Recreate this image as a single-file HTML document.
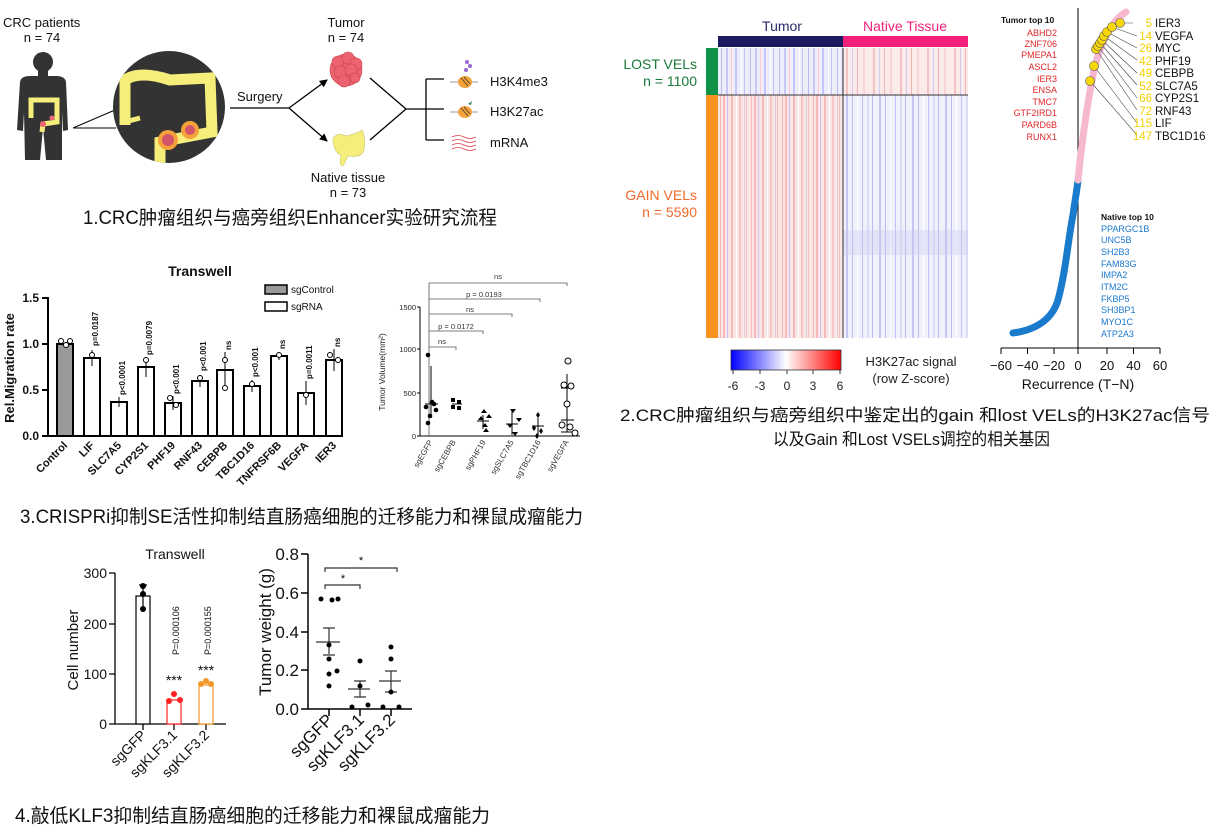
<!DOCTYPE html>
<html><head><meta charset="utf-8"><style>
html,body{margin:0;padding:0;background:#fff;}
svg{display:block;font-family:"Liberation Sans","Noto Sans CJK SC",sans-serif;}
</style></head><body>
<svg width="1228" height="835" viewBox="0 0 1228 835" xmlns="http://www.w3.org/2000/svg">
<defs>
<clipPath id="cc"><circle cx="169" cy="107" r="56"/></clipPath>
<pattern id="tr" patternUnits="userSpaceOnUse" width="31" height="300" x="718">
<rect width="31" height="300" fill="#fbe6e6"/>
<rect x="2" width="1" height="300" fill="#e88" opacity=".5"/><rect x="5" width="2" height="300" fill="#f6b8b8"/>
<rect x="9" width="1" height="300" fill="#99f" opacity=".5"/><rect x="13" width="2" height="300" fill="#f2a8a8" opacity=".7"/>
<rect x="18" width="1" height="300" fill="#fff"/><rect x="21" width="2" height="300" fill="#f4b0b0" opacity=".6"/>
<rect x="26" width="1" height="300" fill="#aab" opacity=".4"/><rect x="28" width="1" height="300" fill="#e99" opacity=".5"/>
</pattern>
<pattern id="tb" patternUnits="userSpaceOnUse" width="29" height="300" x="718">
<rect width="29" height="300" fill="#eeeefb"/>
<rect x="3" width="1" height="300" fill="#88e" opacity=".5"/><rect x="8" width="2" height="300" fill="#c8c8f4"/>
<rect x="13" width="1" height="300" fill="#fcc"/><rect x="17" width="2" height="300" fill="#aaf" opacity=".6"/>
<rect x="23" width="1" height="300" fill="#fff"/><rect x="26" width="1" height="300" fill="#99e" opacity=".5"/>
</pattern>
<pattern id="nb" patternUnits="userSpaceOnUse" width="33" height="300" x="843">
<rect width="33" height="300" fill="#f1f1fb"/>
<rect x="3" width="2" height="300" fill="#c6c6f2"/><rect x="9" width="1" height="300" fill="#88e" opacity=".5"/>
<rect x="14" width="1" height="300" fill="#fff"/><rect x="19" width="1" height="300" fill="#aaf" opacity=".7"/>
<rect x="24" width="2" height="300" fill="#dcdcf7"/><rect x="29" width="1" height="300" fill="#77e" opacity=".45"/>
</pattern>
<pattern id="nr" patternUnits="userSpaceOnUse" width="27" height="300" x="843">
<rect width="27" height="300" fill="#faeaea"/>
<rect x="3" width="2" height="300" fill="#f4c0c0"/><rect x="9" width="1" height="300" fill="#aaf" opacity=".5"/>
<rect x="14" width="1" height="300" fill="#f3b3b3"/><rect x="20" width="2" height="300" fill="#f8d4d4"/>
</pattern>
<linearGradient id="cb" x1="0" x2="1"><stop offset="0" stop-color="#0000ff"/><stop offset=".5" stop-color="#fff"/><stop offset="1" stop-color="#ff0000"/></linearGradient>
<marker id="ar" markerWidth="8" markerHeight="8" refX="7" refY="4" orient="auto" markerUnits="userSpaceOnUse"><path d="M0,0 L8,4 L0,8 Z" fill="#000"/></marker>
</defs>

<!-- ===== Panel 1 ===== -->
<g font-size="13" fill="#111">
<text x="3" y="27">CRC patients</text>
<text x="42" y="42" text-anchor="middle">n = 74</text>
<text x="346" y="27" text-anchor="middle">Tumor</text>
<text x="346" y="42" text-anchor="middle">n = 74</text>
<text x="237" y="101">Surgery</text>
<text x="348" y="182" text-anchor="middle">Native tissue</text>
<text x="348" y="197" text-anchor="middle">n = 73</text>
<text x="490" y="86">H3K4me3</text>
<text x="490" y="116">H3K27ac</text>
<text x="490" y="147">mRNA</text>
</g>
<!-- human -->
<g fill="#333">
<circle cx="43" cy="62" r="10"/>
<rect x="38" y="68" width="10" height="10"/>
<path d="M20,82 Q21,76 30,76 L56,76 Q65,76 66,82 L68,130 L63,131 L62,112 L62,160 L46,160 L43,128 L40,160 L25,160 L24,112 L23,131 L17,130 Z"/>
</g>
<path d="M31,118 L31,100 L57,100 L57,122 L43,124 L42,132" fill="none" stroke="#f5ee7a" stroke-width="5"/>
<circle cx="43" cy="124" r="3" fill="#e67"/>
<circle cx="52" cy="118" r="2.5" fill="#e67"/>
<!-- callout -->
<path d="M73,128 L115,110 M73,128 L116,128" stroke="#000" stroke-width="1" fill="none"/>
<circle cx="169" cy="107" r="56" fill="#333"/>
<g clip-path="url(#cc)">
<path d="M125,125 L125,80 Q140,70 170,80 L210,78 L212,132 L170,140 L160,142 L160,165" fill="none" stroke="#f5ee7a" stroke-width="11"/>
<path d="M125,122 L140,118" stroke="#f5ee7a" stroke-width="5"/>
<circle cx="190" cy="130" r="9" fill="#f5a23a"/><circle cx="190" cy="130" r="5" fill="#d4556a"/>
<circle cx="168" cy="140" r="10" fill="#f5a23a"/><circle cx="168" cy="140" r="6" fill="#d4556a"/>
</g>
<!-- surgery arrows -->
<path d="M230,108 L289,108" stroke="#000" stroke-width="1.3"/>
<path d="M289,108 L327,80" stroke="#000" stroke-width="1.3" marker-end="url(#ar)"/>
<path d="M289,108 L327,141" stroke="#000" stroke-width="1.3" marker-end="url(#ar)"/>
<!-- tumor blob -->
<g fill="#ec6470" stroke="#c94350" stroke-width=".6">
<circle cx="346" cy="70" r="16"/>
<circle cx="338" cy="62" r="6"/><circle cx="348" cy="58" r="6"/><circle cx="356" cy="64" r="6"/>
<circle cx="340" cy="72" r="6"/><circle cx="351" cy="70" r="6"/><circle cx="344" cy="81" r="6"/><circle cx="355" cy="78" r="5"/>
</g>
<!-- native tissue -->
<path d="M333,138 Q338,132 346,136 Q356,134 362,130 Q366,138 364,150 Q362,158 348,156 L345,162 Q342,170 340,162 L341,155 Q333,152 333,138 Z" fill="#f5ee7a" stroke="#ccc56a" stroke-width=".6"/>
<!-- convergence -->
<path d="M370,78 L406,109 L370,140 M406,109 L426,109 M426,79 L426,140 M426,79 L444,79 M426,109 L444,109 M426,140 L444,140" stroke="#000" stroke-width="1.3" fill="none"/>
<!-- icons -->
<g>
<path d="M450,82 L478,82 M450,112 L478,112" stroke="#777" stroke-width=".7"/>
<ellipse cx="465" cy="82" rx="7" ry="6" fill="#f5a23a"/><path d="M461,78 L468,86 M464,77 L470,84" stroke="#333" stroke-width=".7"/>
<circle cx="466" cy="70" r="2" fill="#9a66cc"/><circle cx="470" cy="66" r="2" fill="#9a66cc"/><circle cx="467" cy="62" r="2" fill="#9a66cc"/>
<ellipse cx="465" cy="112" rx="7" ry="6" fill="#f5a23a"/><path d="M461,108 L468,116 M464,107 L470,114" stroke="#333" stroke-width=".7"/>
<path d="M468,104 L472,101 L471,105 Z" fill="#3a8a5a"/>
<path d="M452,137 q6,-3 12,0 t12,0 M452,141 q6,-3 12,0 t12,0 M452,145 q6,-3 12,0 t12,0 M452,149 q6,-3 12,0 t12,0" stroke="#e0404a" stroke-width=".8" fill="none"/>
</g>
<text x="83" y="224" font-size="19" textLength="414" lengthAdjust="spacingAndGlyphs" fill="#111">1.CRC肿瘤组织与癌旁组织Enhancer实验研究流程</text>

<!-- ===== Panel 2 heatmap ===== -->
<text x="782" y="31" font-size="14" fill="#2b2a6e" text-anchor="middle">Tumor</text>
<text x="905" y="31" font-size="14" fill="#f0247a" text-anchor="middle">Native Tissue</text>
<rect x="718" y="36" width="125" height="11" fill="#1c1a60"/>
<rect x="843" y="36" width="125" height="11" fill="#f2207a"/>
<rect x="706" y="48" width="12" height="47" fill="#0f9148"/>
<rect x="706" y="95" width="12" height="243" fill="#f7931e"/>
<rect x="718" y="48" width="125" height="47" fill="url(#tb)"/>
<rect x="843" y="48" width="125" height="47" fill="url(#nr)"/>
<rect x="718" y="95" width="125" height="243" fill="url(#tr)"/>
<rect x="843" y="95" width="125" height="243" fill="url(#nb)"/>
<rect x="843" y="230" width="125" height="25" fill="#c8c8f0" opacity=".35"/>
<path d="M718,95 L968,95 M843,48 L843,338" stroke="#333" stroke-width="1"/>
<g font-size="14" text-anchor="end">
<text x="697" y="69" fill="#1a7a3a">LOST VELs</text>
<text x="697" y="86" fill="#1a7a3a">n = 1100</text>
<text x="697" y="200" fill="#f26a2a">GAIN VELs</text>
<text x="697" y="217" fill="#f26a2a">n = 5590</text>
</g>
<rect x="731" y="350" width="110" height="20" fill="url(#cb)" stroke="#333" stroke-width=".8"/>
<g font-size="12" fill="#222" text-anchor="middle">
<path d="M733,370 v4 M760,370 v4 M787,370 v4 M813,370 v4 M840,370 v4" stroke="#333"/>
<text x="733" y="390">-6</text><text x="760" y="390">-3</text><text x="787" y="390">0</text><text x="813" y="390">3</text><text x="840" y="390">6</text>
<text x="911" y="366" font-size="13">H3K27ac signal</text>
<text x="911" y="383" font-size="13">(row Z-score)</text>
</g>

<!-- ===== Panel 2 recurrence ===== -->
<path d="M1078,8 L1078,348" stroke="#000" stroke-width="1"/>
<path d="M1001,348 L1160,348" stroke="#000" stroke-width="1"/>
<g stroke="#000"><path d="M1001,348v6 M1027.5,348v6 M1054,348v6 M1078,348v6 M1107,348v6 M1133.5,348v6 M1160,348v6"/></g>
<g font-size="13" fill="#111" text-anchor="middle">
<text x="1001" y="370">−60</text><text x="1027.5" y="370">−40</text><text x="1054" y="370">−20</text><text x="1078" y="370">0</text><text x="1107" y="370">20</text><text x="1133.5" y="370">40</text><text x="1160" y="370">60</text>
<text x="1078" y="389" font-size="14">Recurrence (T−N)</text>
</g>
<path d="M1013,333 C1035,330 1052,320 1058,300 C1066,270 1068,240 1073,215 C1075,200 1077,190 1078,180" fill="none" stroke="#1a7acb" stroke-width="7" stroke-linecap="round"/>
<path d="M1078,180 C1082,140 1088,100 1094,70 C1100,45 1110,22 1126,12" fill="none" stroke="#f6b8cf" stroke-width="7" stroke-linecap="round"/>
<g stroke="#444" stroke-width=".6">
<path d="M1120,23 L1133,23 M1112,27 L1137,36 M1107,32 L1137,48 M1104,36 L1137,60 M1102,40 L1137,73 M1100,43 L1137,85 M1098,46 L1137,98 M1096,49 L1137,110 M1094,66 L1137,123 M1090,81 L1137,135"/>
</g>
<g fill="#f7d708" stroke="#555" stroke-width=".6">
<circle cx="1090" cy="81" r="4.5"/><circle cx="1094" cy="66" r="4.5"/><circle cx="1096" cy="49" r="4.5"/><circle cx="1098" cy="46" r="4.5"/><circle cx="1100" cy="43" r="4.5"/><circle cx="1102" cy="40" r="4.5"/><circle cx="1104" cy="36" r="4.5"/><circle cx="1107" cy="32" r="4.5"/><circle cx="1112" cy="27" r="4.5"/><circle cx="1120" cy="23" r="4.5"/>
</g>
<g font-size="11.5">
<g fill="#f5cf00" text-anchor="end">
<text x="1152" y="27">5</text><text x="1152" y="40">14</text><text x="1152" y="52">26</text><text x="1152" y="65">42</text><text x="1152" y="77">49</text><text x="1152" y="90">52</text><text x="1152" y="102">66</text><text x="1152" y="115">72</text><text x="1152" y="127">115</text><text x="1152" y="140">147</text>
</g>
<g fill="#111">
<text x="1155" y="27">IER3</text><text x="1155" y="40">VEGFA</text><text x="1155" y="52">MYC</text><text x="1155" y="65">PHF19</text><text x="1155" y="77">CEBPB</text><text x="1155" y="90">SLC7A5</text><text x="1155" y="102">CYP2S1</text><text x="1155" y="115">RNF43</text><text x="1155" y="127">LIF</text><text x="1155" y="140">TBC1D16</text>
</g>
</g>
<text x="1001" y="23" font-size="8.5" font-weight="bold" fill="#111">Tumor top 10</text>
<g font-size="9" fill="#e0262a" text-anchor="end">
<text x="1057" y="36">ABHD2</text><text x="1057" y="47">ZNF706</text><text x="1057" y="58">PMEPA1</text><text x="1057" y="70">ASCL2</text><text x="1057" y="82">IER3</text><text x="1057" y="93">ENSA</text><text x="1057" y="105">TMC7</text><text x="1057" y="116">GTF2IRD1</text><text x="1057" y="128">PARD6B</text><text x="1057" y="140">RUNX1</text>
</g>
<text x="1101" y="220" font-size="8.5" font-weight="bold" fill="#111">Native top 10</text>
<g font-size="9" fill="#1a78d0">
<text x="1101" y="232">PPARGC1B</text><text x="1101" y="243">UNC5B</text><text x="1101" y="255">SH2B3</text><text x="1101" y="267">FAM83G</text><text x="1101" y="278">IMPA2</text><text x="1101" y="290">ITM2C</text><text x="1101" y="302">FKBP5</text><text x="1101" y="313">SH3BP1</text><text x="1101" y="325">MYO1C</text><text x="1101" y="337">ATP2A3</text>
</g>
<text x="620" y="421" font-size="17" textLength="590" lengthAdjust="spacingAndGlyphs" fill="#111">2.CRC肿瘤组织与癌旁组织中鉴定出的gain 和lost VELs的H3K27ac信号</text>
<text x="773" y="445" font-size="17" textLength="277" lengthAdjust="spacingAndGlyphs" fill="#111">以及Gain 和Lost VSELs调控的相关基因</text>

<!-- ===== Panel 3 bar chart ===== -->
<text x="200" y="276" font-size="14" font-weight="bold" text-anchor="middle" fill="#111">Transwell</text>
<path d="M48,297 L48,436 L340,436" stroke="#000" stroke-width="2" fill="none"/>
<path d="M42,298 h6 M42,344 h6 M42,390 h6 M42,436 h6" stroke="#000" stroke-width="2"/>
<g font-size="12" font-weight="bold" text-anchor="end" fill="#111">
<text x="39" y="302">1.5</text><text x="39" y="348">1.0</text><text x="39" y="394">0.5</text><text x="39" y="440">0.0</text>
</g>
<text transform="translate(14,368) rotate(-90)" font-size="13" font-weight="bold" text-anchor="middle" fill="#111">Rel.Migration rate</text>
<rect x="265" y="285" width="22" height="9" fill="#999" stroke="#000" stroke-width="1.5"/>
<rect x="265" y="302" width="22" height="9" fill="#fff" stroke="#000" stroke-width="1.5"/>
<text x="291" y="293" font-size="10" fill="#111">sgControl</text>
<text x="291" y="310" font-size="10" fill="#111">sgRNA</text>
<g stroke="#000" stroke-width="2">
<rect x="57" y="344" width="16" height="92" fill="#999"/>
<rect x="84" y="358" width="16" height="78" fill="#fff"/>
<rect x="111" y="402" width="16" height="34" fill="#fff"/>
<rect x="138" y="367" width="16" height="69" fill="#fff"/>
<rect x="165" y="403" width="16" height="33" fill="#fff"/>
<rect x="192" y="381" width="16" height="55" fill="#fff"/>
<rect x="217" y="370" width="16" height="66" fill="#fff"/>
<rect x="244" y="386" width="16" height="50" fill="#fff"/>
<rect x="271" y="356" width="16" height="80" fill="#fff"/>
<rect x="298" y="393" width="16" height="43" fill="#fff"/>
<rect x="326" y="360" width="16" height="76" fill="#fff"/>
</g>
<g stroke="#000" stroke-width="1" fill="#fff">
<path d="M92,350 v16 M119,397 v10 M146,357 v20 M173,396 v14 M200,375 v12 M225,352 v36 M252,380 v12 M279,352 v8 M306,381 v24 M334,349 v22"/>
<circle cx="61" cy="341" r="2.5"/><circle cx="66" cy="345" r="2.5"/><circle cx="70" cy="341" r="2.5"/>
<circle cx="92" cy="355" r="2.5"/><circle cx="146" cy="360" r="2.5"/><circle cx="170" cy="398" r="2.5"/><circle cx="176" cy="405" r="2.5"/>
<circle cx="200" cy="378" r="2.5"/><circle cx="225" cy="360" r="2.5"/><circle cx="225" cy="388" r="2.5"/><circle cx="252" cy="384" r="2.5"/>
<circle cx="279" cy="355" r="2.5"/><circle cx="306" cy="395" r="2.5"/><circle cx="330" cy="355" r="2.5"/><circle cx="338" cy="360" r="2.5"/>
</g>
<g font-size="8" font-weight="bold" fill="#111">
<text transform="translate(98,346) rotate(-90)">p=0.0187</text>
<text transform="translate(125,395) rotate(-90)">p&lt;0.0001</text>
<text transform="translate(152,355) rotate(-90)">p=0.0079</text>
<text transform="translate(179,394) rotate(-90)">p&lt;0.001</text>
<text transform="translate(206,371) rotate(-90)">p&lt;0.001</text>
<text transform="translate(231,350) rotate(-90)">ns</text>
<text transform="translate(258,377) rotate(-90)">p&lt;0.001</text>
<text transform="translate(285,349) rotate(-90)">ns</text>
<text transform="translate(312,379) rotate(-90)">p=0.0011</text>
<text transform="translate(340,347) rotate(-90)">ns</text>
</g>
<g font-size="11" font-weight="bold" fill="#111" text-anchor="end">
<text transform="translate(68,446) rotate(-45)">Control</text>
<text transform="translate(95,446) rotate(-45)">LIF</text>
<text transform="translate(122,446) rotate(-45)">SLC7A5</text>
<text transform="translate(149,446) rotate(-45)">CYP2S1</text>
<text transform="translate(176,446) rotate(-45)">PHF19</text>
<text transform="translate(203,446) rotate(-45)">RNF43</text>
<text transform="translate(228,446) rotate(-45)">CEBPB</text>
<text transform="translate(255,446) rotate(-45)">TBC1D16</text>
<text transform="translate(282,446) rotate(-45)">TNFRSF6B</text>
<text transform="translate(309,446) rotate(-45)">VEGFA</text>
<text transform="translate(337,446) rotate(-45)">IER3</text>
</g>

<!-- ===== Panel 3 scatter ===== -->
<path d="M420,307 L420,436 L580,436" stroke="#000" stroke-width="1" fill="none"/>
<path d="M417,307 h3 M417,349 h3 M417,393 h3 M417,436 h3" stroke="#000"/>
<g font-size="7.5" text-anchor="end" fill="#222">
<text x="416" y="310">1500</text><text x="416" y="352">1000</text><text x="416" y="396">500</text><text x="416" y="439">0</text>
</g>
<text transform="translate(385,372) rotate(-90)" font-size="8.5" text-anchor="middle" fill="#222">Tumor Volume(mm²)</text>
<g stroke="#555" stroke-width=".8" fill="none">
<path d="M429,283 H567 v3 M429,299 H540 v3 M429,314 H512 v3 M429,331 H483 v3 M429,347 H456 v3"/>
<path d="M429,283 V436"/>
</g>
<g font-size="7.5" fill="#333" text-anchor="middle">
<text x="498" y="279">ns</text><text x="484" y="297">p = 0.0193</text><text x="470" y="312">ns</text><text x="456" y="329">p = 0.0172</text><text x="442" y="344">ns</text>
</g>
<g stroke="#000" stroke-width="1" fill="none">
<path d="M431,366 v51 M425,404 h13 M452,404 h10 M483,415 v14 M477,421 h12 M512,410 v25 M506,424 h12 M538,418 v17 M532,426 h12 M567,374 v58 M561,420 h13 M561,388 h12 M561,432 h12"/>
</g>
<g fill="#000">
<circle cx="428" cy="355" r="2.3"/><circle cx="426" cy="407" r="2.3"/><circle cx="432" cy="402" r="2.3"/><circle cx="436" cy="410" r="2.3"/><circle cx="430" cy="416" r="2.3"/><circle cx="428" cy="423" r="2.3"/><circle cx="434" cy="404" r="2.3"/>
<rect x="451" y="398" width="4" height="4"/><rect x="457" y="400" width="4" height="4"/><rect x="451" y="405" width="4" height="4"/><rect x="457" y="406" width="4" height="4"/>
<path d="M481,413 l3,-4 l3,4z M478,420 l3,-4 l3,4z M486,418 l3,-4 l3,4z M483,432 l3,-4 l3,4z M482,427 l3,-4 l3,4z"/>
<path d="M510,409 l3,4 l3,-4z M516,418 l3,4 l3,-4z M507,424 l3,4 l3,-4z M512,432 l3,4 l3,-4z"/>
<path d="M538,412 l2,3 l-2,3 l-2,-3z M534,425 l2,3 l-2,3 l-2,-3z M541,428 l2,3 l-2,3 l-2,-3z M537,433 l2,3 l-2,3 l-2,-3z"/>
</g>
<g fill="#fff" stroke="#000" stroke-width="1">
<circle cx="568" cy="361" r="3"/><circle cx="564" cy="385" r="3"/><circle cx="571" cy="386" r="3"/><circle cx="567" cy="404" r="3"/><circle cx="562" cy="425" r="3"/><circle cx="570" cy="427" r="3"/><circle cx="575" cy="433" r="3"/>
</g>
<g font-size="8" fill="#333" text-anchor="end">
<text transform="translate(433,442) rotate(-60)">sgEGFP</text>
<text transform="translate(456,442) rotate(-60)">sgCEBPB</text>
<text transform="translate(486,442) rotate(-60)">sgPHF19</text>
<text transform="translate(514,442) rotate(-60)">sgSLC7A5</text>
<text transform="translate(541,442) rotate(-60)">sgTBC1D16</text>
<text transform="translate(569,442) rotate(-60)">sgVEGFA</text>
</g>
<text x="20" y="523" font-size="19" textLength="563" lengthAdjust="spacingAndGlyphs" fill="#111">3.CRISPRi抑制SE活性抑制结直肠癌细胞的迁移能力和裸鼠成瘤能力</text>

<!-- ===== Panel 4 bar ===== -->
<text x="175" y="559" font-size="14" text-anchor="middle" fill="#111">Transwell</text>
<path d="M115,573 L115,724 L226,724" stroke="#000" stroke-width="1.3" fill="none"/>
<path d="M109,573 h6 M109,624 h6 M109,674 h6 M109,724 h6 M143,724 v6 M174,724 v6 M206,724 v6" stroke="#000" stroke-width="1.3"/>
<g font-size="14" text-anchor="end" fill="#111">
<text x="107" y="578">300</text><text x="107" y="629">200</text><text x="107" y="679">100</text><text x="107" y="729">0</text>
</g>
<text transform="translate(78,650) rotate(-90)" font-size="15" text-anchor="middle" fill="#111">Cell number</text>
<rect x="136" y="596" width="14" height="128" fill="#fff" stroke="#000" stroke-width="1.2"/>
<rect x="167" y="700" width="14" height="24" fill="#fff" stroke="#f22" stroke-width="1.2"/>
<rect x="199" y="685" width="14" height="39" fill="#fff" stroke="#f5962a" stroke-width="1.2"/>
<path d="M143,585 v22 M139,585 h8" stroke="#000" stroke-width="1.2"/>
<circle cx="143" cy="586" r="3" fill="#000"/><circle cx="143" cy="594" r="3" fill="#000"/><circle cx="143" cy="609" r="3" fill="#000"/>
<circle cx="174" cy="694" r="3" fill="#f22"/><circle cx="169" cy="701" r="3" fill="#f22"/><circle cx="180" cy="700" r="3" fill="#f22"/>
<circle cx="206" cy="681" r="3" fill="#f5962a"/><circle cx="201" cy="684" r="3" fill="#f5962a"/><circle cx="211" cy="684" r="3" fill="#f5962a"/>
<text x="174" y="685" font-size="14" text-anchor="middle" fill="#111">***</text>
<text x="206" y="675" font-size="14" text-anchor="middle" fill="#111">***</text>
<text transform="translate(179,655) rotate(-90)" font-size="9" fill="#111">P=0.000106</text>
<text transform="translate(211,655) rotate(-90)" font-size="9" fill="#111">P=0.000155</text>
<g font-size="14" text-anchor="end" fill="#111">
<text transform="translate(147,736) rotate(-45)">sgGFP</text>
<text transform="translate(178,736) rotate(-45)">sgKLF3.1</text>
<text transform="translate(210,736) rotate(-45)">sgKLF3.2</text>
</g>

<!-- ===== Panel 4 scatter ===== -->
<path d="M308,554 L308,709 L412,709" stroke="#000" stroke-width="1.5" fill="none"/>
<path d="M301,554 h7 M301,593 h7 M301,632 h7 M301,670 h7 M301,709 h7 M329,709 v7 M360,709 v7 M391,709 v7" stroke="#000" stroke-width="1.5"/>
<g font-size="17" text-anchor="end" fill="#111">
<text x="299" y="560">0.8</text><text x="299" y="599">0.6</text><text x="299" y="638">0.4</text><text x="299" y="676">0.2</text><text x="299" y="715">0.0</text>
</g>
<text transform="translate(271,632) rotate(-90)" font-size="17" text-anchor="middle" fill="#111">Tumor weight (g)</text>
<path d="M325,572 v-4 H397 v4 M325,589 v-4 H360 v4" stroke="#333" stroke-width="1.2" fill="none"/>
<text x="361" y="564" font-size="11" text-anchor="middle">*</text>
<text x="343" y="582" font-size="11" text-anchor="middle">*</text>
<g stroke="#333" stroke-width="1.2">
<path d="M316,642 h24 M329,628 v26 M323,628 h12 M323,655 h12"/>
<path d="M348,689 h22 M360,681 v16 M354,681 h12 M354,697 h12"/>
<path d="M379,681 h22 M391,671 v22 M385,671 h12 M385,692 h12"/>
</g>
<g fill="#000">
<circle cx="321" cy="599" r="2.5"/><circle cx="332" cy="600" r="2.5"/><circle cx="338" cy="599" r="2.5"/><circle cx="329" cy="645" r="2.5"/><circle cx="329" cy="659" r="2.5"/><circle cx="329" cy="674" r="2.5"/><circle cx="337" cy="671" r="2.5"/><circle cx="329" cy="686" r="2.5"/>
<circle cx="360" cy="661" r="2.5"/><circle cx="352" cy="707" r="2.5"/><circle cx="360" cy="686" r="2.5"/><circle cx="368" cy="705" r="2.5"/>
<circle cx="391" cy="647" r="2.5"/><circle cx="391" cy="659" r="2.5"/><circle cx="391" cy="692" r="2.5"/><circle cx="383" cy="707" r="2.5"/><circle cx="399" cy="707" r="2.5"/>
</g>
<g font-size="17" text-anchor="end" fill="#111">
<text transform="translate(334,721) rotate(-45)">sgGFP</text>
<text transform="translate(365,721) rotate(-45)">sgKLF3.1</text>
<text transform="translate(396,721) rotate(-45)">sgKLF3.2</text>
</g>
<text x="15" y="822" font-size="19" textLength="475" lengthAdjust="spacingAndGlyphs" fill="#111">4.敲低KLF3抑制结直肠癌细胞的迁移能力和裸鼠成瘤能力</text>
</svg>
</body></html>
